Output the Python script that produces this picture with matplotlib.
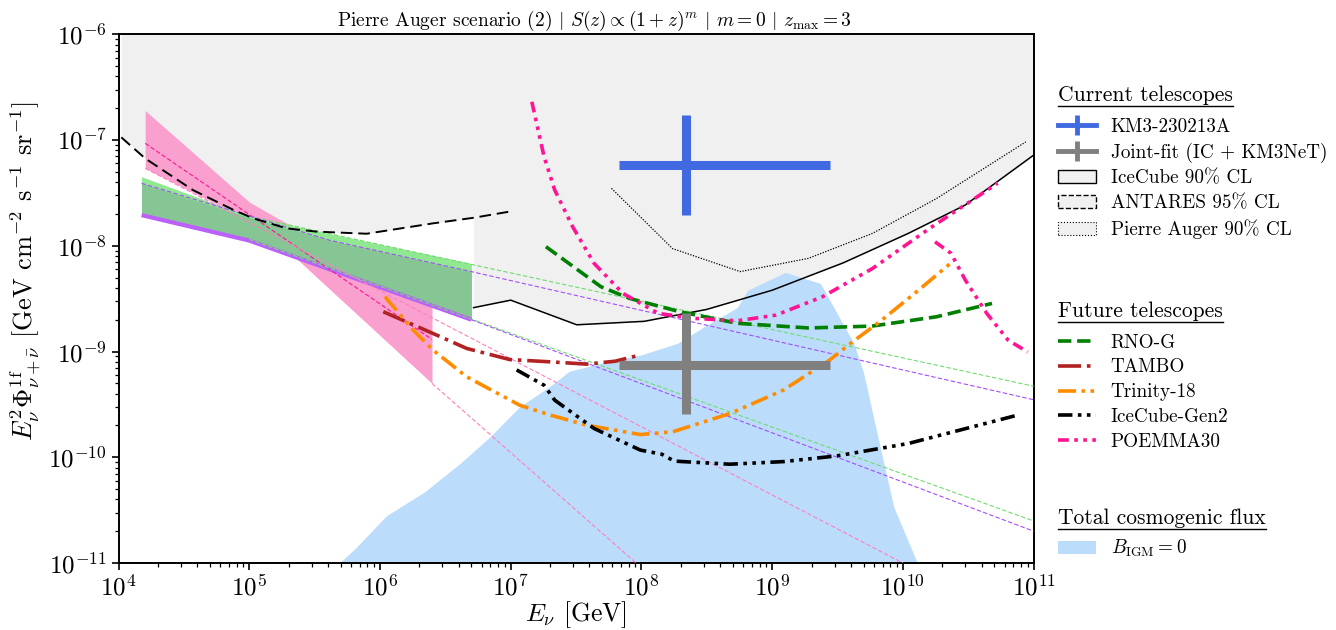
import matplotlib
matplotlib.use('Agg')
import matplotlib.pyplot as plt
import matplotlib.patches as mpatches
from matplotlib.lines import Line2D
import numpy as np

plt.rcParams['font.family'] = 'cmr10'
plt.rcParams['mathtext.fontset'] = 'cm'
plt.rcParams['axes.unicode_minus'] = False
plt.rcParams['axes.formatter.use_mathtext'] = True

### data ###
# upper limits of current telescopes
antares_E = [1.05e4, 1.6e4, 3.7e4, 7.6e4, 1.07e5, 1.93e5, 3.3e5, 7.9e5, 2.55e6, 5.2e6, 9.7e6]
antares_F = [1.06e-7, 6.7e-8, 3.37e-8, 2.18e-8, 1.82e-8, 1.46e-8, 1.36e-8, 1.30e-8, 1.63e-8, 1.84e-8, 2.1e-8]
icecube_E = [5.2e6, 1.0e7, 3.2e7, 1.05e8, 3.15e8, 1.0e9, 3.5e9, 1.1e10, 3.0e10, 1e11]
icecube_F = [2.6e-9, 3.06e-9, 1.79e-9, 1.93e-9, 2.5e-9, 3.8e-9, 6.9e-9, 1.31e-8, 2.43e-8, 7.2e-8]
auger_E = [5.9e7, 1.73e8, 5.7e8, 1.89e9, 5.85e9, 1.81e10, 8.7e10]
auger_F = [3.49e-8, 9.4e-9, 5.7e-9, 7.6e-9, 1.31e-8, 2.8e-8, 9.6e-8]

# KM3-230213A and joint fit crosses: (E, E_lo, E_hi, F, F_lo, F_hi)
km3_pt = [2.18e8, 6.7e7, 2.75e9, 5.8e-8, 1.95e-8, 1.73e-7]
joint_pt = [2.18e8, 6.7e7, 2.75e9, 7.43e-10, 2.56e-10, 2.29e-9]

# future telescopes
rnog_E = [1.86e7, 4.9e7, 8.1e7, 1.96e8, 5.4e8, 1.9e9, 5.8e9, 1.8e10, 4.8e10]
rnog_F = [9.8e-9, 4.1e-9, 3.18e-9, 2.38e-9, 1.85e-9, 1.67e-9, 1.74e-9, 2.13e-9, 2.85e-9]
tambo_E = [1.06e6, 2.55e6, 4.6e6, 9.8e6, 2.04e7, 3.8e7, 6.3e7, 9.5e7]
tambo_F = [2.38e-9, 1.48e-9, 1.07e-9, 8.4e-10, 7.98e-10, 7.6e-10, 8.1e-10, 9.2e-10]
trinity_E = [1.09e6, 1.8e6, 2.55e6, 4.6e6, 1.17e7, 2.0e7, 3.83e7, 9.8e7, 1.73e8, 4.75e8,
             1.22e9, 2.75e9, 4.28e9, 6.64e9, 1.32e10, 2.4e10]
trinity_F = [3.3e-9, 1.59e-9, 1.03e-9, 5.77e-10, 3.11e-10, 2.51e-10, 2.01e-10, 1.64e-10, 1.74e-10,
             2.59e-10, 4.32e-10, 8.3e-10, 1.28e-9, 1.91e-9, 3.81e-9, 7.1e-9]
gen2_E = [1.11e7, 1.8e7, 2.17e7, 4.35e7, 9.8e7, 1.43e8, 1.78e8, 4.73e8, 1.22e9, 3.12e9, 1.1e10, 3.4e10, 7.5e10]
gen2_F = [6.7e-10, 4.8e-10, 3.47e-10, 1.87e-10, 1.17e-10, 1.07e-10, 9.2e-11, 8.6e-11, 9.1e-11,
          1.03e-10, 1.35e-10, 1.94e-10, 2.5e-10]
poemma_E = [1.45e7, 1.8e7, 2.17e7, 2.98e7, 4.35e7, 7.2e7, 1.35e8, 2.52e8, 5.36e8, 1.07e9,
            2.43e9, 5.85e9, 1.6e10, 5.3e10]
poemma_F = [2.3e-7, 6.95e-8, 3.37e-8, 1.51e-8, 6.8e-9, 3.55e-9, 2.29e-9, 2.06e-9, 1.95e-9,
            2.21e-9, 3.3e-9, 6.1e-9, 1.46e-8, 3.9e-8]
poemma2_E = [1.76e10, 2.33e10, 3.0e10, 4.38e10, 6.38e10, 9.0e10]
poemma2_F = [1.09e-8, 8.5e-9, 4.74e-9, 2.29e-9, 1.28e-9, 9.9e-10]

# total cosmogenic flux, B_IGM = 0
cosmo_E = [4.9e5, 6.6e5, 1.12e6, 2.19e6, 4.17e6, 6.9e6, 1.17e7, 2.0e7, 2.8e7, 5.0e7, 1.0e8,
           1.9e8, 3.16e8, 5.4e8, 6.5e8, 1.26e9, 2.34e9, 4.2e9, 5.0e9, 6.6e9, 8.5e9, 1.29e10]
cosmo_F = [1.0e-11, 1.41e-11, 2.8e-11, 4.7e-11, 8.9e-11, 1.55e-10, 3.0e-10, 4.7e-10, 6.5e-10,
           7.8e-10, 9.3e-10, 1.2e-9, 1.78e-9, 2.6e-9, 3.8e-9, 5.6e-9, 4.4e-9, 1.2e-9, 6.3e-10,
           1.35e-10, 3.4e-11, 1.0e-11]

# measured diffuse fluxes (bands) and their extrapolations
pink_E = [1.6e4, 1.0e5, 1.26e5, 2.5e6]
pink_hi = [1.9e-7, 2.6e-8, 2.2e-8, 2.7e-9]
pink_lo = [5.4e-8, 1.73e-8, 1.5e-8, 5.0e-10]
pink_mid_E = [1.6e4, 2.5e6]
pink_mid_F = [9.3e-8, 1.3e-9]
pink_ext1_E = [1.6e4, 1e10]
pink_ext1_F = [5.4e-8, 1e-11]
pink_ext2_E = [2.5e6, 9.1e7]
pink_ext2_F = [5.0e-10, 1e-11]

band_E = [1.5e4, 1.0e5, 4.1e5, 5.0e6]
green_hi = [4.5e-8, 1.9e-8, 1.3e-8, 6.8e-9]
green_lo = [2.07e-8, 1.15e-8, 6.3e-9, 2.16e-9]
purple_hi = [3.9e-8, 1.85e-8, 1.13e-8, 5.7e-9]
purple_lo = [1.95e-8, 1.12e-8, 6.0e-9, 2.0e-9]
green_ext_E = [1.0e5, 1e11]
green_ext_hi = [1.9e-8, 4.7e-10]
green_ext_lo = [1.15e-8, 2.5e-11]
purple_ext_E = [1.5e4, 4.1e5, 5.0e6, 1e11]
purple_ext_hi = [3.9e-8, 1.13e-8, 5.7e-9, 3.5e-10]
purple_ext_lo_E = [5.0e6, 1e11]
purple_ext_lo = [2.0e-9, 2.0e-11]

### plot ###
fig = plt.figure(figsize=(13.36, 6.3), dpi=100)
ax = fig.add_axes([0.0887, 0.1063, 0.6850, 0.8393])
ax.set_xscale('log')
ax.set_yscale('log')

gray = '#f0f0f0'
ax.fill_between(antares_E, antares_F, 1e-6, color=gray, lw=0, zorder=0)
ax.fill_between(icecube_E, icecube_F, 1e-6, color=gray, lw=0, zorder=0)
ax.fill_between(auger_E, auger_F, 1e-6, color=gray, lw=0, zorder=0)

ax.fill_between(cosmo_E, 1e-12, cosmo_F, color='#bbdcfa', lw=0, zorder=1)

# bands
ax.fill_between(pink_E, pink_lo, pink_hi, color='#f9a0cf', lw=0, zorder=2)
ax.fill_between(band_E, green_lo, green_hi, color='#90e890', lw=0, zorder=3)
ax.fill_between(band_E, purple_lo, purple_hi, color='#86c594', lw=0, zorder=3.5)
ax.plot(band_E, purple_lo, color='#bb60fa', lw=3, zorder=3.6, solid_capstyle='butt')

thin = dict(lw=0.8, ls=(0, (4, 2)), zorder=4)
ax.plot(pink_mid_E, pink_mid_F, color='#ff1493', **thin)
ax.plot(pink_ext1_E, pink_ext1_F, color='#ff7fc0', **thin)
ax.plot(pink_ext2_E, pink_ext2_F, color='#ff7fc0', **thin)
ax.plot(green_ext_E, green_ext_hi, color='#6fdc6f', **thin)
ax.plot(green_ext_E, green_ext_lo, color='#6fdc6f', **thin)
ax.plot(purple_ext_E, purple_ext_hi, color='#a64dff', **thin)
ax.plot(purple_ext_lo_E, purple_ext_lo, color='#a64dff', **thin)

# current limits
ax.plot(icecube_E, icecube_F, color='k', lw=1.1, zorder=5)
ax.plot(antares_E, antares_F, color='k', lw=1.4, ls=(0, (6, 3)), zorder=5)
ax.plot(auger_E, auger_F, color='k', lw=0.9, ls=(0, (1, 1.2)), zorder=5)

# future telescopes
lw_f = 2.6
ax.plot(rnog_E, rnog_F, color='green', lw=lw_f, ls='--', zorder=6, label='RNO-G')
ax.plot(tambo_E, tambo_F, color='firebrick', lw=lw_f, ls='-.', zorder=6, label='TAMBO')
ax.plot(trinity_E, trinity_F, color='darkorange', lw=lw_f, ls=(0, (5, 1.5, 1, 1.5, 1, 1.5)),
        zorder=6, label='Trinity-18')
ax.plot(gen2_E, gen2_F, color='k', lw=lw_f, ls=(0, (4, 1.5, 1, 1.5, 1, 1.5, 1, 1.5)),
        zorder=6, label='IceCube-Gen2')
ax.plot(poemma_E, poemma_F, color='deeppink', lw=lw_f, ls=(0, (3, 1.5, 1, 1.5, 1, 1.5, 1, 1.5)),
        zorder=6, label='POEMMA30')
ax.plot(poemma2_E, poemma2_F, color='deeppink', lw=lw_f, ls=(0, (3, 1.5, 1, 1.5, 1, 1.5, 1, 1.5)),
        zorder=6)

# crosses
def cross(p, color):
    return ax.errorbar(p[0], p[3], xerr=[[p[0] - p[1]], [p[2] - p[0]]],
                       yerr=[[p[3] - p[4]], [p[5] - p[3]]],
                       fmt='none', ecolor=color, elinewidth=6.5, capsize=0, zorder=7)

cross(km3_pt, 'royalblue')
cross(joint_pt, 'gray')

ax.set_xlim(1e4, 1e11)
ax.set_ylim(1e-11, 1e-6)
for s in ax.spines.values():
    s.set_linewidth(1.4)
ax.tick_params(which='major', length=5, width=1.2, labelsize=18)
ax.tick_params(which='minor', length=3, width=0.9)
ax.set_xticks([10.0**k for k in range(4, 12)])
ax.set_xlabel(r'$E_\nu$ [GeV]', fontsize=18.5, labelpad=-1)
ax.set_ylabel(r'$E_\nu^2\Phi_{\nu+\bar{\nu}}^{\mathrm{1f}}$ [GeV cm$^{-2}$ s$^{-1}$ sr$^{-1}$]',
              fontsize=19)
ax.yaxis.set_label_coords(-0.084, 0.552)
ax.set_title(r'Pierre Auger scenario (2) $|$ $S(z) \propto (1+z)^m$ $|$ $m=0$ $|$ $z_{\mathrm{max}}=3$',
             fontsize=14, pad=6, x=0.52)

# legends
leg_kw = dict(frameon=False, fontsize=13.8, title_fontsize=15.5, alignment='left',
              handlelength=2.0, handletextpad=0.75, labelspacing=0.36, borderaxespad=0,
              borderpad=0, loc='upper left', numpoints=1)
h_cur = [Line2D([], [], color='royalblue', lw=3.5, marker='|', ms=15, mew=3.5),
         Line2D([], [], color='gray', lw=3.5, marker='|', ms=15, mew=3.5),
         mpatches.Patch(facecolor=gray, edgecolor='k', lw=1.0, ls='-'),
         mpatches.Patch(facecolor=gray, edgecolor='k', lw=1.0, ls='--'),
         mpatches.Patch(facecolor=gray, edgecolor='k', lw=0.8, ls=':')]
l_cur = ['KM3-230213A', 'Joint-fit (IC + KM3NeT)', 'IceCube 90% CL', 'ANTARES 95% CL',
         'Pierre Auger 90% CL']
leg1 = ax.legend(h_cur, l_cur, title='Current telescopes',
                 bbox_to_anchor=(1058 / 1336, 1 - 85 / 630), bbox_transform=fig.transFigure, **leg_kw)
ax.add_artist(leg1)

h_fut = [l for l in ax.lines if l.get_label() in ('RNO-G', 'TAMBO', 'Trinity-18', 'IceCube-Gen2', 'POEMMA30')]
leg2 = ax.legend(h_fut, [l.get_label() for l in h_fut], title='Future telescopes',
                 bbox_to_anchor=(1058 / 1336, 1 - 301 / 630), bbox_transform=fig.transFigure, **leg_kw)
ax.add_artist(leg2)

leg3 = ax.legend([mpatches.Patch(facecolor='#bbdcfa', lw=0)], [r'$B_{\mathrm{IGM}} = 0$'],
                 title='Total cosmogenic flux',
                 bbox_to_anchor=(1058 / 1336, 1 - 508 / 630), bbox_transform=fig.transFigure, **leg_kw)

# more room between title and entries
for lg in (leg1, leg2, leg3):
    lg._legend_box.sep = 9.5
leg3._legend_box.sep = 7.5

# underline the legend titles
fig.canvas.draw()
for lg in (leg1, leg2, leg3):
    bb = lg.get_title().get_window_extent()
    fig.add_artist(Line2D([bb.x0, bb.x1], [bb.y0 - 1, bb.y0 - 1], color='k', lw=1.0,
                          transform=None))

fig.savefig('out.png', dpi=100)
